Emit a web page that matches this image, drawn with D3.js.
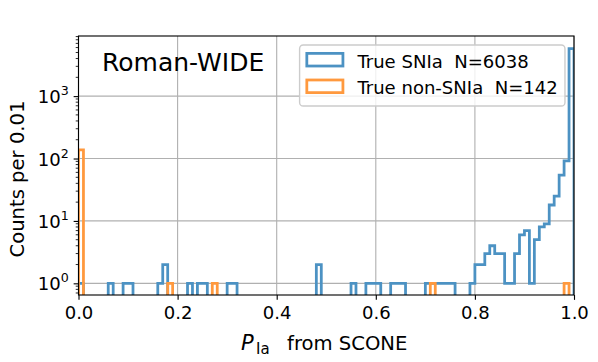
<!DOCTYPE html>
<html>
<head>
<meta charset="utf-8">
<script src="https://cdn.jsdelivr.net/npm/d3@7"></script>
<style>
  body { margin: 0; background: #fff; }
  svg { display: block; font-family: "DejaVu Sans", sans-serif; }
  text { white-space: pre; }
</style>
</head>
<body>
<svg id="chart" width="598" height="362"></svg>
<script>
// ---------- data ----------
const binWidth = 0.01;
const nBins = 100;
// non-zero bins: [bin index, count]
const snIaBins = [
  [0,1],[6,1],[9,1],[10,1],[16,1],[17,2],[22,1],[24,1],[25,1],[30,1],[31,1],
  [48,2],[55,1],[58,1],[59,1],[60,1],[63,1],[64,1],[65,1],
  [70,1],[71,1],[72,1],[73,1],[74,1],[75,1],[79,1],
  [80,2],[81,2],[82,3],[83,4],[84,3],[85,3],[86,1],[87,1],[88,3],[89,6],
  [90,7],[91,1],[92,5],[93,8],[94,9],[95,18],[96,25],[97,54],[98,92],[99,5763]
];
const nonIaBins = [[0,138],[18,1],[27,1],[71,1],[98,1]];
const seriesNames = ["True SNIa  N=6038", "True non-SNIa  N=142"];
const seriesColors = ["#4c92c3", "#ff993e"];
const xTicks = [0, 0.2, 0.4, 0.6, 0.8, 1.0];
const yTicks = [1, 10, 100, 1000];
const yExponents = ["0", "1", "2", "3"];
const title = "Roman-WIDE";

// ---------- layout ----------
const pt = 100 / 72;
const svg = d3.select("#chart");
const L = 78.5, R = 574, T = 36, B = 295;
const x = d3.scaleLinear().domain([0, 1]).range([L, R]);
const y = d3.scaleLog().domain([0.65, 9190]).range([B, T]);
const tickFs = 13 * pt, labelFs = 19.6, legFs = 13 * pt, titleFs = 18 * pt;
const tickLen = 3.5 * pt;

function counts(bins) {
  const c = new Array(nBins).fill(0);
  bins.forEach(([i, v]) => c[i] = v);
  return c;
}
const series = [counts(snIaBins), counts(nonIaBins)];

svg.append("defs").append("clipPath").attr("id", "clip")
  .append("rect").attr("x", L).attr("y", T).attr("width", R - L).attr("height", B - T);

// gridlines
const grid = svg.append("g");
xTicks.forEach(t => grid.append("line")
  .attr("x1", x(t)).attr("x2", x(t)).attr("y1", T).attr("y2", B)
  .attr("stroke", "#b0b0b0").attr("stroke-width", 0.8 * pt));
yTicks.forEach(t => grid.append("line")
  .attr("x1", L).attr("x2", R).attr("y1", y(t)).attr("y2", y(t))
  .attr("stroke", "#b0b0b0").attr("stroke-width", 0.8 * pt));

// step histograms
const yv = v => v > 0 ? y(v) : B + 2000;
series.forEach((c, s) => {
  const pts = [[x(0), B + 2000]];
  c.forEach((v, i) => {
    pts.push([x(i * binWidth), yv(v)]);
    pts.push([x((i + 1) * binWidth), yv(v)]);
  });
  pts.push([x(1), B + 2000]);
  svg.append("path")
    .attr("clip-path", "url(#clip)")
    .attr("d", d3.line()(pts))
    .attr("fill", "none")
    .attr("stroke", seriesColors[s])
    .attr("stroke-width", 2 * pt)
    .attr("stroke-linejoin", "miter");
});

// x axis ticks
const xAxis = svg.append("g").attr("transform", `translate(0,${B})`)
  .call(d3.axisBottom(x).tickValues(xTicks).tickFormat(d3.format(".1f")).tickSize(tickLen));
xAxis.select(".domain").remove();
xAxis.selectAll("line").attr("stroke", "#000").attr("stroke-width", 0.8 * pt);
xAxis.selectAll("text").attr("font-size", tickFs + "px").attr("font-family", "DejaVu Sans")
  .attr("fill", "#000").attr("dy", null).attr("y", 318.5 - B);

// y axis ticks
const yAxis = svg.append("g").attr("transform", `translate(${L},0)`)
  .call(d3.axisLeft(y).tickValues(yTicks).tickFormat("").tickSize(tickLen));
yAxis.select(".domain").remove();
yAxis.selectAll("line").attr("stroke", "#000").attr("stroke-width", 0.8 * pt);
const minor = [];
for (let d = -1; d <= 3; d++) for (let k = 2; k <= 9; k++) {
  const v = k * Math.pow(10, d);
  if (v >= 0.65 && v <= 9190) minor.push(v);
}
svg.append("g").selectAll("line").data(minor).join("line")
  .attr("x1", L - 2 * pt).attr("x2", L).attr("y1", d => y(d)).attr("y2", d => y(d))
  .attr("stroke", "#000").attr("stroke-width", 0.6 * pt);
yTicks.forEach((t, i) => {
  const tx = svg.append("text")
    .attr("x", L - 2 * tickLen).attr("y", y(t) + 7)
    .attr("text-anchor", "end").attr("font-size", tickFs + "px").attr("fill", "#000");
  tx.append("tspan").text("10");
  tx.append("tspan").text(yExponents[i]).attr("font-size", (tickFs * 0.7) + "px").attr("dy", -8);
});

// spines
svg.append("rect").attr("x", L).attr("y", T).attr("width", R - L).attr("height", B - T)
  .attr("fill", "none").attr("stroke", "#000").attr("stroke-width", 0.8 * pt);

// axis labels
const xlY = 349.5;
svg.append("text").attr("x", 241).attr("y", xlY).attr("font-size", "21px")
  .attr("font-style", "italic").attr("fill", "#000").text("P");
svg.append("text").attr("x", 256).attr("y", xlY + 4).attr("font-size", "15px")
  .attr("fill", "#000").text("Ia");
svg.append("text").attr("x", 287).attr("y", xlY).attr("font-size", labelFs + "px")
  .attr("fill", "#000").text("from SCONE");

svg.append("text").attr("transform", `translate(24,179) rotate(-90)`)
  .attr("text-anchor", "middle").attr("font-size", labelFs + "px").attr("fill", "#000")
  .text("Counts per 0.01");

// title text
svg.append("text").attr("x", 102).attr("y", 70.5).attr("font-size", titleFs + "px").attr("fill", "#000").text(title);

// legend
const f = legFs;
const rowY = [67.7, 94.3];
const lg = svg.append("g");
const box = lg.append("rect");
const texts = seriesNames.map((n, i) => lg.append("text")
  .attr("y", rowY[i]).attr("font-size", f + "px").attr("fill", "#000").text(n));
const tw = d3.max(texts, t => t.node().getComputedTextLength());
const legR = R - 0.5 * f;
const legW = 0.4 * f + 2 * f + 0.8 * f + tw + 0.4 * f;
const legL = legR - legW;
box.attr("x", legL).attr("y", T + 0.5 * f).attr("width", legW).attr("height", 106 - (T + 0.5 * f))
  .attr("rx", 0.2 * f).attr("fill", "#fff").attr("fill-opacity", 0.8)
  .attr("stroke", "#cccccc").attr("stroke-width", 1 * pt);
texts.forEach(t => t.attr("x", legL + 0.4 * f + 2 * f + 0.8 * f));
seriesNames.forEach((n, i) => {
  const cy = rowY[i] - 8;
  lg.append("rect").attr("x", legL + 0.4 * f).attr("y", cy - 0.35 * f)
    .attr("width", 2 * f).attr("height", 0.7 * f)
    .attr("fill", "none").attr("stroke", seriesColors[i]).attr("stroke-width", 2 * pt);
});
</script>
</body>
</html>
